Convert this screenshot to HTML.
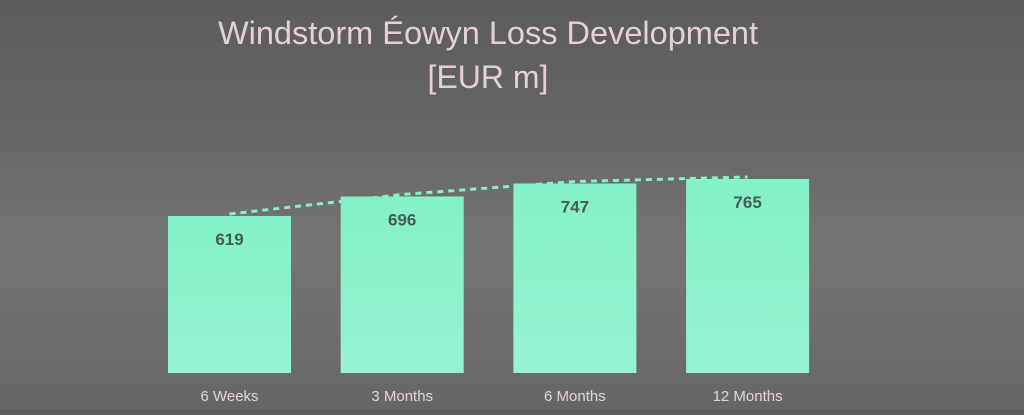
<!DOCTYPE html>
<html><head><meta charset="utf-8"><style>
html,body{margin:0;padding:0}
body{width:1024px;height:410px;overflow:hidden;background:linear-gradient(#5c5c5c 0%,#646464 30%,#757575 60%,#6e6e6e 80%,#666 100%);font-family:"Liberation Sans",sans-serif}
</style></head><body>
<svg id="chart" width="1024" height="410" xmlns="http://www.w3.org/2000/svg">
<defs><linearGradient id="bg" x1="0" y1="0" x2="0" y2="1"><stop offset="0" stop-color="#84f1c7"/><stop offset="1" stop-color="#97f3d2"/></linearGradient></defs>
<text x="488" y="44" text-anchor="middle" font-size="32.5" fill="#e6d0d6">Windstorm Éowyn Loss Development</text>
<text x="488" y="88" text-anchor="middle" font-size="32" fill="#e6d0d6">[EUR m]</text>
<g id="bars"></g><g id="labels"></g>
</svg>
<script>
const categories=["6 Weeks","3 Months","6 Months","12 Months"];
const values=[619,696,747,765];
const svg=document.getElementById('chart'),NS="http://www.w3.org/2000/svg";
const base=373,scale=157/619,x0=168,step=172.7,bw=123;
const y=v=>base-v*scale, xc=i=>x0+i*step+bw/2;
const g=document.getElementById('bars'),lg=document.getElementById('labels');
let pts=[];
values.forEach((v,i)=>{
 const r=document.createElementNS(NS,'rect');
 
 
 r.setAttribute('x',x0+i*step);r.setAttribute('y',y(v));r.setAttribute('width',bw);r.setAttribute('height',base-y(v));r.setAttribute('fill','url(#bg)');
 g.appendChild(r);
 const t=document.createElementNS(NS,'text');
 
 
 t.setAttribute('x',xc(i));t.setAttribute('y',y(v)+29);t.setAttribute('text-anchor','middle');t.setAttribute('font-size','17');t.setAttribute('font-weight','bold');t.setAttribute('fill','#4a5a55');t.textContent=v;
 lg.appendChild(t);
 const c=document.createElementNS(NS,'text');
 
 
 c.setAttribute('x',xc(i));c.setAttribute('y',401);c.setAttribute('text-anchor','middle');c.setAttribute('font-size','15');c.setAttribute('fill','#e6d0d6');c.textContent=categories[i];
 lg.appendChild(c);
 pts.push(xc(i)+','+(y(v)-2));
});
const pl=document.createElementNS(NS,'polyline');


pl.setAttribute('points',pts.join(' '));pl.setAttribute('fill','none');pl.setAttribute('stroke','#84f1c7');pl.setAttribute('stroke-width','3');pl.setAttribute('stroke-dasharray','6 5');
svg.insertBefore(pl,g);
</script>
</body></html>
